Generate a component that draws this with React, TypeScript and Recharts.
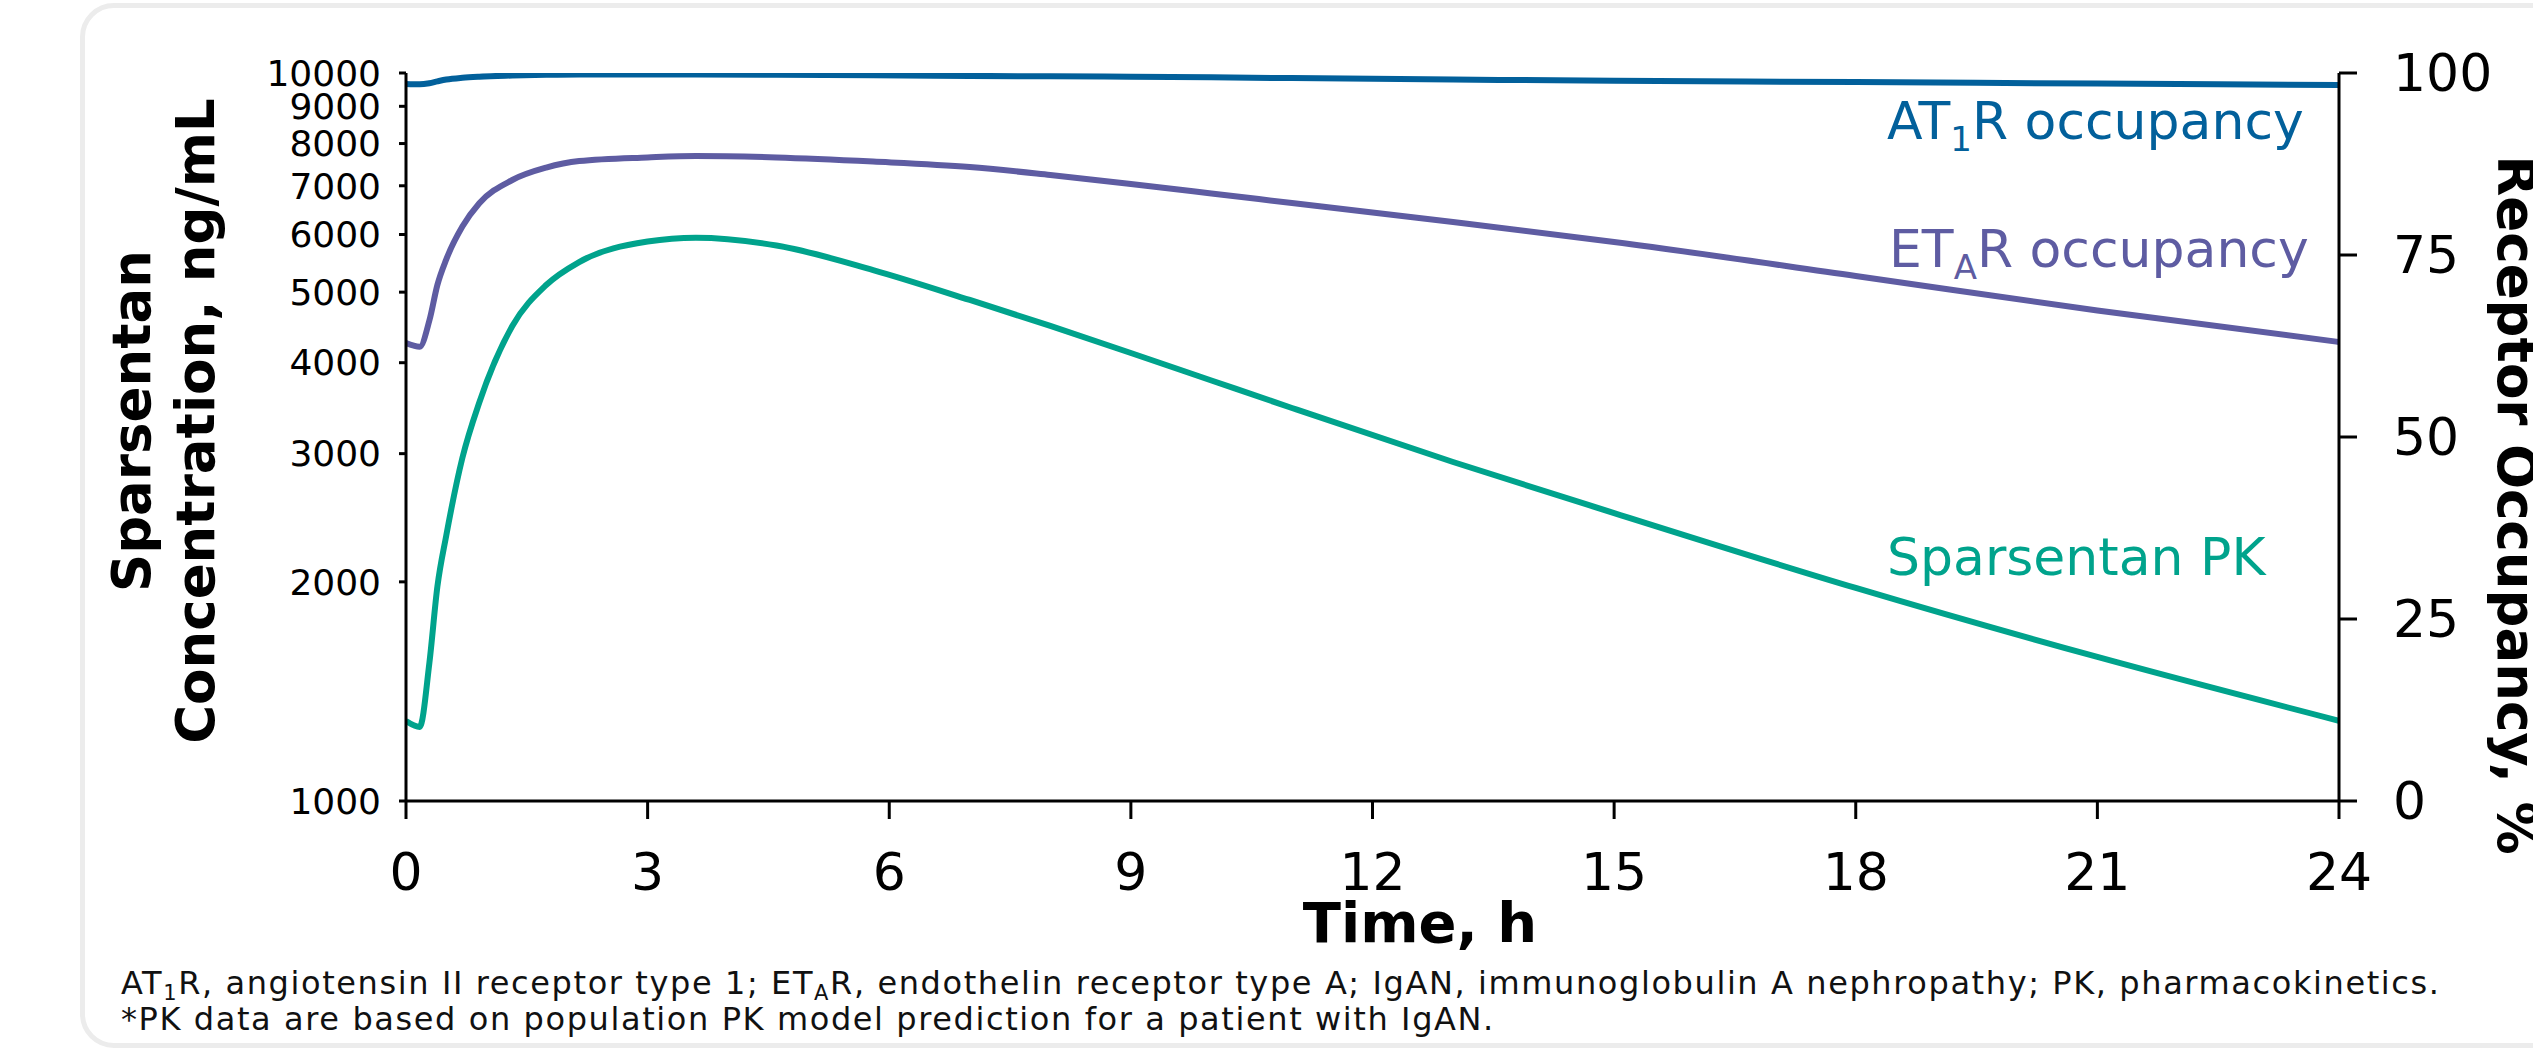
import React from 'react';
import { LineChart, Line, XAxis, YAxis } from 'recharts';

// ---- data ----
const TIME_H = [0, 0.17, 0.29, 0.39, 0.5, 0.7, 0.91, 1.32, 1.74, 2.15, 3, 3.6, 4.6, 5.8, 7, 8, 9, 10, 11, 13, 15, 18, 21, 24];
const PK_NG_ML = [1288, 1264, 1547, 1971, 2316, 2960, 3527, 4492, 5114, 5500, 5868, 5940, 5794, 5362, 4878, 4493, 4125, 3781, 3466, 2922, 2486, 1962, 1577, 1289];
const ETAR_OCC = [62.9, 62.4, 66.0, 70.9, 74.4, 78.9, 82.1, 85.3, 87.0, 87.9, 88.4, 88.6, 88.4, 87.84, 87.09, 85.99, 84.75, 83.45, 82.14, 79.53, 76.79, 72.12, 67.38, 63.05];
const AT1R_OCC = [98.5, 98.45, 98.6, 98.85, 99.1, 99.35, 99.5, 99.65, 99.75, 99.8, 99.8, 99.8, 99.75, 99.7, 99.6, 99.55, 99.5, 99.4, 99.3, 99.1, 98.95, 98.75, 98.55, 98.35];

const X_TICKS = [0, 3, 6, 9, 12, 15, 18, 21, 24];
const LEFT_TICKS = [1000, 2000, 3000, 4000, 5000, 6000, 7000, 8000, 9000, 10000];
const RIGHT_TICKS = [0, 25, 50, 75, 100];

const data = TIME_H.map((t, i) => ({ t, pk: PK_NG_ML[i], etar: ETAR_OCC[i], at1r: AT1R_OCC[i] }));

const FONT = '"DejaVu Sans", Verdana, sans-serif';
const BLUE = '#02609B';
const PURPLE = '#5E5CA2';
const GREEN = '#00A38C';

const W = 2533;
const H = 1048;

export default function App() {
  const axisLine = { stroke: '#000', strokeWidth: 3 };
  return (
    <div style={{ position: 'absolute', left: 0, top: 0, width: W, height: H, overflow: 'hidden', background: '#fff' }}>
      <div
        style={{
          position: 'absolute',
          left: 80,
          top: 3,
          width: 2560,
          height: 1045,
          boxSizing: 'border-box',
          border: '5px solid #ececec',
          borderRadius: 34,
        }}
      />
      <div style={{ position: 'absolute', left: 0, top: 0 }}>
        <LineChart width={W} height={H} data={data} margin={{ top: 73, right: 0, left: 0, bottom: 0 }}>
          <XAxis
            dataKey="t"
            type="number"
            domain={[0, 24]}
            ticks={X_TICKS}
            height={247}
            tickSize={18}
            tickMargin={34}
            axisLine={axisLine}
            tickLine={axisLine}
            tick={{ fontSize: 52, fill: '#000', fontFamily: FONT }}
            allowDataOverflow
          />
          <YAxis
            yAxisId="left"
            orientation="left"
            scale="log"
            domain={[1000, 10000]}
            ticks={LEFT_TICKS}
            width={406}
            tickSize={7}
            tickMargin={18}
            axisLine={axisLine}
            tickLine={axisLine}
            tick={{ fontSize: 36, fill: '#000', fontFamily: FONT }}
            allowDataOverflow
            interval={0}
          />
          <YAxis
            yAxisId="right"
            orientation="right"
            domain={[0, 100]}
            ticks={RIGHT_TICKS}
            width={194}
            tickSize={18}
            tickMargin={36}
            axisLine={axisLine}
            tickLine={axisLine}
            tick={{ fontSize: 52, fill: '#000', fontFamily: FONT }}
            allowDataOverflow
            interval={0}
          />
          <Line yAxisId="right" dataKey="at1r" type="monotone" stroke={BLUE} strokeWidth={6} dot={false} activeDot={false} isAnimationActive={false} />
          <Line yAxisId="right" dataKey="etar" type="monotone" stroke={PURPLE} strokeWidth={6} dot={false} activeDot={false} isAnimationActive={false} />
          <Line yAxisId="left" dataKey="pk" type="monotone" stroke={GREEN} strokeWidth={6} dot={false} activeDot={false} isAnimationActive={false} />
        </LineChart>
      </div>
      <svg width={W} height={H} style={{ position: 'absolute', left: 0, top: 0, pointerEvents: 'none' }} fontFamily={FONT}>
        {/* left axis title */}
        <text x={150} y={421} transform="rotate(-90 150 421)" textAnchor="middle" fontSize={53} fontWeight="bold" fill="#000">Sparsentan</text>
        <text x={214} y={421} transform="rotate(-90 214 421)" textAnchor="middle" fontSize={53} fontWeight="bold" fill="#000">Concentration, ng/mL</text>
        {/* right axis title */}
        <text x={2498} y={505} transform="rotate(90 2498 505)" textAnchor="middle" fontSize={53} fontWeight="bold" fill="#000">Receptor Occupancy, %</text>
        {/* x axis title */}
        <text x={1420} y={942} textAnchor="middle" fontSize={56} fontWeight="bold" fill="#000">Time, h</text>
        {/* series labels */}
        <text x={1887} y={139} fontSize={52} fill={BLUE}>
          AT<tspan fontSize={34} dy={12}>1</tspan><tspan dy={-12}>R occupancy</tspan>
        </text>
        <text x={1889} y={267} fontSize={52} fill={PURPLE}>
          ET<tspan fontSize={34} dy={12}>A</tspan><tspan dy={-12}>R occupancy</tspan>
        </text>
        <text x={1887} y={575} fontSize={52} fill={GREEN}>Sparsentan PK</text>
        {/* footnotes */}
        <text x={121} y={994} fontSize={32} letterSpacing={1.6} fill="#111">
          AT<tspan fontSize={21} dy={6}>1</tspan><tspan dy={-6}>R, angiotensin II receptor type 1; ET</tspan><tspan fontSize={21} dy={6}>A</tspan><tspan dy={-6}>R, endothelin receptor type A; IgAN, immunoglobulin A nephropathy; PK, pharmacokinetics.</tspan>
        </text>
        <text x={121} y={1030} fontSize={32} letterSpacing={1.6} fill="#111">*PK data are based on population PK model prediction for a patient with IgAN.</text>
      </svg>
    </div>
  );
}
